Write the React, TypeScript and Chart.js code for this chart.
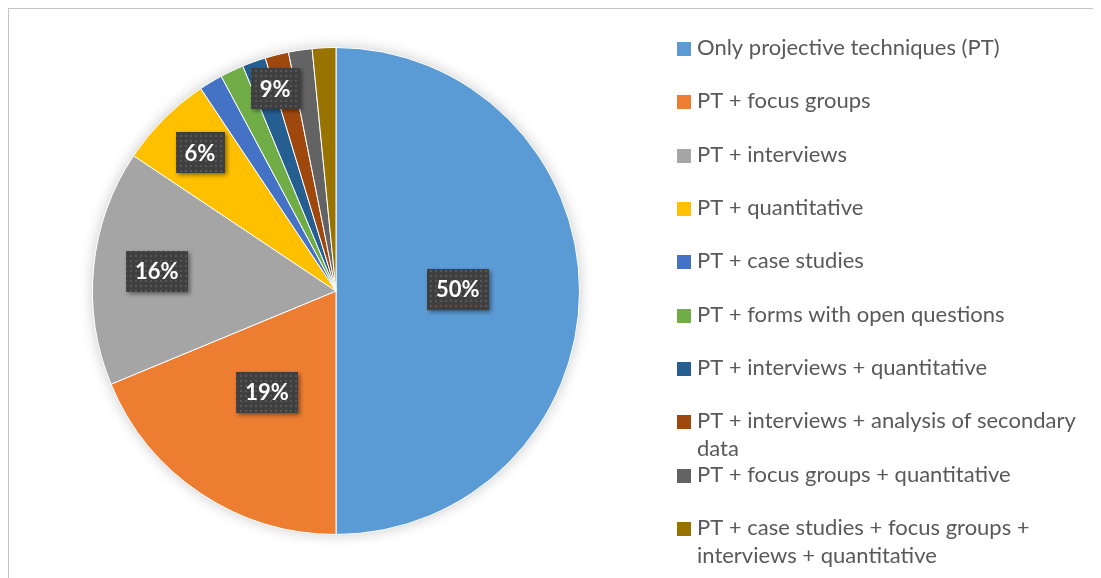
import { useEffect, useRef } from "react";
import { Chart, registerables } from "chart.js";
Chart.register(...registerables);

const categories = [
  "Only projective techniques (PT)",
  "PT + focus groups",
  "PT + interviews",
  "PT + quantitative",
  "PT + case studies",
  "PT + forms with open questions",
  "PT + interviews + quantitative",
  "PT + interviews + analysis of secondary data",
  "PT + focus groups + quantitative",
  "PT + case studies + focus groups + interviews + quantitative",
];
const counts = [32, 12, 10, 4, 1, 1, 1, 1, 1, 1];
const colors = [
  "#5B9BD5", "#ED7D31", "#A5A5A5", "#FFC000", "#4472C4",
  "#70AD47", "#255E91", "#9E480E", "#636363", "#997300",
];
// slices from this index on share one data label
const groupStart = 4;
const labelRadius = [0.5, 0.51, 0.74, 0.79, 0.86];

const W = 1092;
const H = 569;
const FONT = "Lato, 'Open Sans', sans-serif";

function makePattern(ctx: CanvasRenderingContext2D) {
  const c = document.createElement("canvas");
  c.width = 5;
  c.height = 5;
  const p = c.getContext("2d")!;
  p.fillStyle = "#3f3f3f";
  p.fillRect(0, 0, 5, 5);
  p.fillStyle = "#575757";
  p.fillRect(1, 1, 2, 2);
  return ctx.createPattern(c, "repeat");
}

const shadowPlugin = {
  id: "pieShadow",
  beforeDatasetsDraw(chart: any) {
    const arc = chart.getDatasetMeta(0).data[0];
    if (!arc) return;
    const ctx = chart.ctx;
    ctx.save();
    ctx.shadowColor = "rgba(0,0,0,0.22)";
    ctx.shadowBlur = 14;
    ctx.beginPath();
    ctx.arc(arc.x, arc.y, arc.outerRadius, 0, Math.PI * 2);
    ctx.fillStyle = "#fff";
    ctx.fill();
    ctx.restore();
  },
};

const labelPlugin = {
  id: "boxLabels",
  afterDatasetsDraw(chart: any) {
    const meta = chart.getDatasetMeta(0);
    const data: number[] = chart.data.datasets[0].data;
    const total = data.reduce((a, b) => a + b, 0);
    const ctx: CanvasRenderingContext2D = chart.ctx;
    const pattern = makePattern(ctx);
    const items: { angle: number; value: number; r: number; x: number; y: number }[] = [];
    for (let i = 0; i < groupStart; i++) {
      const a = meta.data[i];
      items.push({ angle: (a.startAngle + a.endAngle) / 2, value: data[i], r: a.outerRadius, x: a.x, y: a.y });
    }
    const first = meta.data[groupStart];
    const last = meta.data[data.length - 1];
    const gsum = data.slice(groupStart).reduce((a, b) => a + b, 0);
    items.push({ angle: (first.startAngle + last.endAngle) / 2, value: gsum, r: first.outerRadius, x: first.x, y: first.y });

    items.forEach((it, k) => {
      const rr = it.r * labelRadius[k];
      const cx = it.x + Math.cos(it.angle) * rr;
      const cy = it.y + Math.sin(it.angle) * rr - 2;
      const text = Math.round((it.value / total) * 100) + "%";
      ctx.save();
      ctx.font = `bold 22px ${FONT}`;
      const tw = ctx.measureText(text).width;
      const bw = tw + 18;
      const bh = 41;
      ctx.shadowColor = "rgba(0,0,0,0.45)";
      ctx.shadowBlur = 4;
      ctx.shadowOffsetX = 2;
      ctx.shadowOffsetY = 2;
      ctx.fillStyle = pattern || "#404040";
      ctx.fillRect(Math.round(cx - bw / 2), Math.round(cy - bh / 2), Math.round(bw), bh);
      ctx.restore();
      ctx.save();
      ctx.font = `bold 22px ${FONT}`;
      ctx.fillStyle = "#ffffff";
      ctx.textAlign = "center";
      ctx.textBaseline = "middle";
      ctx.fillText(text, cx, cy + 1);
      ctx.restore();
    });
  },
};

function wrap(ctx: CanvasRenderingContext2D, text: string, maxW: number) {
  const words = text.split(" ");
  const lines: string[] = [];
  let cur = "";
  for (const w of words) {
    const t = cur ? cur + " " + w : w;
    if (ctx.measureText(t).width > maxW && cur) {
      lines.push(cur);
      cur = w;
    } else cur = t;
  }
  if (cur) lines.push(cur);
  return lines;
}

const legendPlugin = {
  id: "sideLegend",
  afterDraw(chart: any) {
    const ctx: CanvasRenderingContext2D = chart.ctx;
    const labels: string[] = chart.data.labels;
    const bg: string[] = chart.data.datasets[0].backgroundColor;
    ctx.save();
    ctx.font = `22px ${FONT}`;
    ctx.textBaseline = "middle";
    labels.forEach((lab, i) => {
      const y = 40 + i * 53.33;
      ctx.fillStyle = bg[i];
      ctx.fillRect(668, Math.round(y - 7), 14, 14);
      ctx.fillStyle = "#595959";
      const lines = wrap(ctx, lab, 390);
      lines.forEach((ln, j) => ctx.fillText(ln, 688, y - 1 + j * 28));
    });
    ctx.restore();
  },
};

export default function App() {
  const ref = useRef<HTMLCanvasElement>(null);
  useEffect(() => {
    document.body.style.overflow = "hidden";
    const chart = new Chart(ref.current!, {
      type: "pie",
      data: {
        labels: categories,
        datasets: [
          {
            data: counts,
            backgroundColor: colors,
            borderColor: "#ffffff",
            borderWidth: 1,
          },
        ],
      },
      options: {
        animation: false,
        responsive: false,
        devicePixelRatio: 1,
        layout: { padding: { left: 83, top: 38, right: W - 571, bottom: H - 526 } },
        plugins: { legend: { display: false }, tooltip: { enabled: false } },
      },
      plugins: [shadowPlugin, labelPlugin, legendPlugin],
    });
    return () => chart.destroy();
  }, []);
  return (
    <div
      style={{
        width: W,
        height: H,
        borderTop: "1px solid #c4c4c4",
        borderLeft: "1px solid #c4c4c4",
        background: "#fff",
      }}
    >
      <canvas ref={ref} width={W} height={H} style={{ display: "block" }} />
    </div>
  );
}
